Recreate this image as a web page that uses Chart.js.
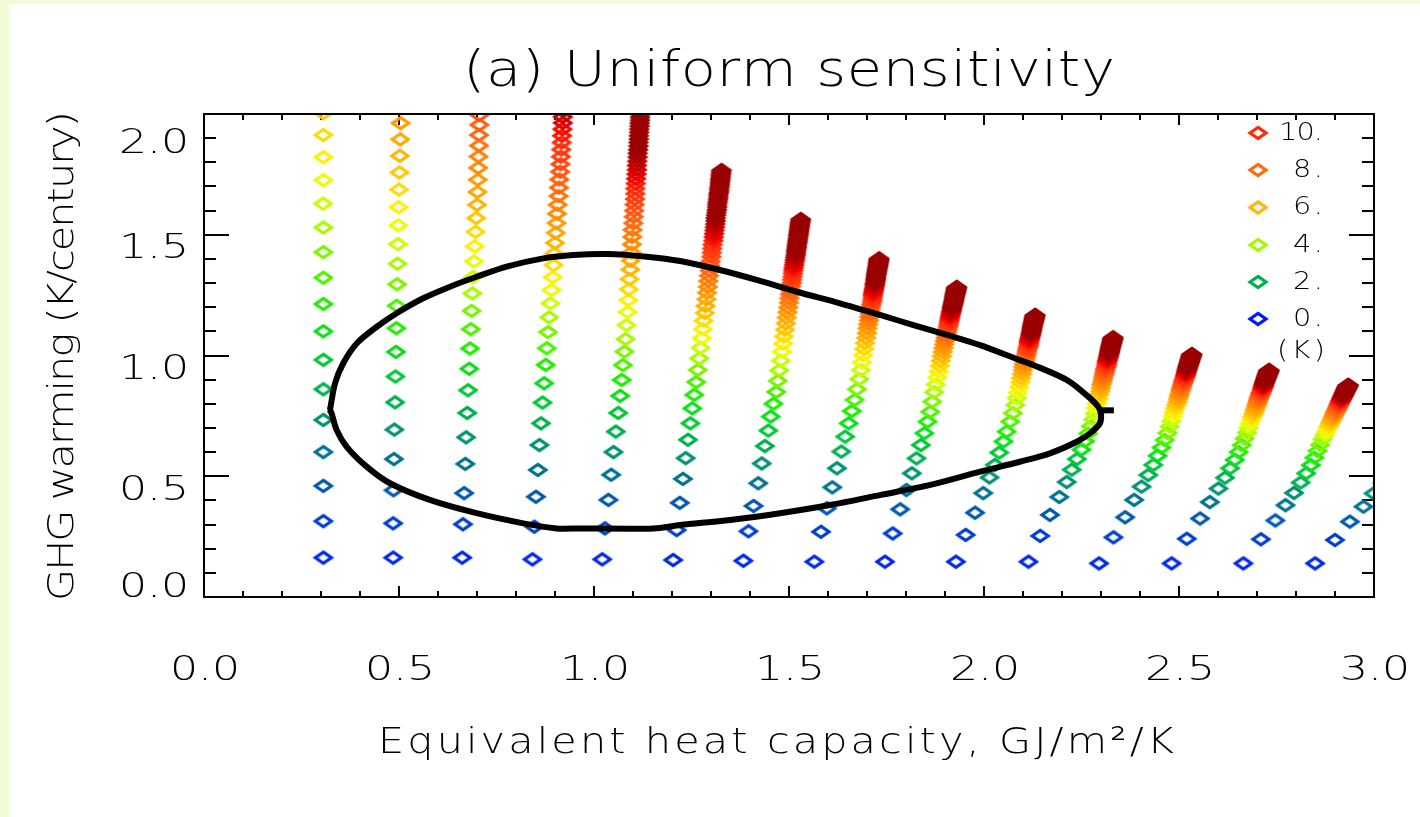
<!DOCTYPE html>
<html><head><meta charset="utf-8">
<style>html,body{margin:0;padding:0;background:#fff;}canvas{display:block;}</style>
<script src="https://cdn.jsdelivr.net/npm/chart.js@4.4.1/dist/chart.umd.min.js"></script>
</head><body>
<canvas id="c" width="1420" height="817"></canvas>
<script>
// ---------------- data ----------------
const sensitivity = [0.33,0.67,1.00,1.33,1.67,2.00,2.33,2.67,3.00,3.33,3.67,4.00,4.33,4.67,5.00,5.33,5.67,6.00,6.33,6.67,7.00,7.33,7.67,8.00,8.33,8.67,9.00,9.33,9.67,10.00,10.33,10.67,11.00,11.33,11.67,12.00,12.33,12.67,13.00,13.33,13.67,14.00,14.33,14.67,15.00,15.33,15.67,16.00,16.33,16.67,17.00,17.33,17.67,18.00,18.33,18.67,19.00,19.33,19.67,20.00];

const col1X = [0.306,0.306,0.306,0.306,0.306,0.306,0.306,0.306,0.306,0.306,0.306,0.306,0.305,0.306,0.306,0.306,0.306,0.306];
const col1Y = [0.163,0.314,0.460,0.600,0.733,0.860,0.982,1.100,1.213,1.322,1.428,1.530,1.629,1.726,1.821,1.913,2.003,2.090];
const col2X = [0.485,0.485,0.486,0.487,0.488,0.490,0.491,0.492,0.493,0.494,0.495,0.496,0.497,0.498,0.499,0.500,0.501,0.502,0.503,0.504,0.505];
const col2Y = [0.163,0.305,0.442,0.571,0.693,0.806,0.913,1.015,1.113,1.206,1.295,1.380,1.461,1.539,1.614,1.687,1.758,1.827,1.895,1.962,2.027];
const col3X = [0.662,0.664,0.667,0.670,0.672,0.675,0.677,0.680,0.682,0.684,0.686,0.688,0.690,0.692,0.694,0.696,0.698,0.700,0.701,0.702,0.703,0.704,0.705,0.705,0.706,0.706,0.707];
const col3Y = [0.163,0.301,0.430,0.551,0.661,0.762,0.856,0.945,1.029,1.109,1.185,1.257,1.325,1.390,1.452,1.512,1.569,1.624,1.677,1.728,1.777,1.824,1.869,1.913,1.955,1.996,2.036];
const col4X = [0.842,0.847,0.851,0.856,0.860,0.864,0.868,0.872,0.876,0.879,0.882,0.885,0.888,0.891,0.894,0.896,0.898,0.900,0.902,0.904,0.905,0.907,0.909,0.910,0.911,0.913,0.914,0.915,0.916,0.917,0.918,0.919,0.920,0.920,0.921,0.922];
const col4Y = [0.156,0.291,0.415,0.526,0.629,0.719,0.805,0.885,0.961,1.030,1.097,1.158,1.216,1.271,1.324,1.374,1.422,1.466,1.508,1.548,1.587,1.624,1.660,1.695,1.729,1.761,1.792,1.823,1.853,1.882,1.910,1.937,1.963,1.988,2.012,2.035];
const col5X = [1.021,1.028,1.037,1.044,1.050,1.056,1.062,1.067,1.071,1.074,1.078,1.081,1.083,1.086,1.088,1.089,1.091,1.093,1.094,1.096,1.097,1.098,1.099,1.101,1.102,1.103,1.104,1.105,1.106,1.106,1.107,1.108,1.109,1.110,1.110,1.111,1.112,1.112,1.113,1.114,1.114,1.115,1.115,1.116,1.116,1.117,1.117,1.118,1.118,1.119,1.119,1.120];
const col5Y = [0.156,0.284,0.402,0.506,0.600,0.685,0.762,0.833,0.899,0.960,1.016,1.068,1.126,1.180,1.229,1.274,1.316,1.356,1.393,1.427,1.460,1.491,1.520,1.548,1.575,1.600,1.625,1.648,1.670,1.691,1.712,1.732,1.751,1.769,1.787,1.804,1.821,1.837,1.852,1.867,1.882,1.896,1.910,1.924,1.937,1.950,1.962,1.974,1.986,1.998,2.009,2.020];
const col6X = [1.203,1.212,1.220,1.228,1.235,1.241,1.247,1.252,1.257,1.262,1.266,1.270,1.273,1.276,1.279,1.281,1.284,1.286,1.288,1.290,1.292,1.293,1.295,1.297,1.298,1.299,1.301,1.302,1.303,1.304,1.306,1.307,1.308,1.309,1.310,1.311,1.312,1.312,1.313,1.314,1.315,1.316,1.316,1.317,1.318,1.319,1.319,1.320,1.321,1.321,1.322,1.323,1.323,1.324,1.324,1.325,1.325,1.326,1.326,1.327];
const col6Y = [0.153,0.277,0.390,0.489,0.575,0.651,0.719,0.781,0.837,0.890,0.940,0.988,1.032,1.072,1.109,1.144,1.176,1.205,1.233,1.260,1.284,1.308,1.330,1.351,1.371,1.390,1.409,1.426,1.443,1.459,1.475,1.490,1.504,1.518,1.531,1.544,1.557,1.569,1.581,1.592,1.603,1.614,1.625,1.635,1.645,1.654,1.664,1.673,1.682,1.691,1.699,1.708,1.716,1.724,1.731,1.739,1.747,1.754,1.761,1.768];
const col7X = [1.383,1.396,1.409,1.421,1.430,1.438,1.447,1.453,1.460,1.467,1.471,1.475,1.479,1.482,1.485,1.487,1.490,1.492,1.494,1.496,1.498,1.500,1.501,1.503,1.504,1.505,1.507,1.508,1.509,1.510,1.511,1.512,1.513,1.514,1.515,1.516,1.517,1.518,1.518,1.519,1.520,1.520,1.521,1.522,1.522,1.523,1.524,1.524,1.525,1.525,1.526,1.526,1.527,1.527,1.528,1.528,1.529,1.529,1.530,1.530];
const col7Y = [0.150,0.272,0.377,0.471,0.553,0.625,0.689,0.747,0.800,0.849,0.895,0.938,0.979,1.016,1.049,1.079,1.107,1.133,1.157,1.179,1.199,1.219,1.237,1.254,1.270,1.286,1.300,1.314,1.327,1.340,1.352,1.363,1.374,1.385,1.395,1.405,1.414,1.423,1.432,1.440,1.448,1.456,1.464,1.471,1.478,1.485,1.492,1.499,1.505,1.511,1.517,1.523,1.529,1.534,1.540,1.545,1.550,1.555,1.560,1.565];
const col8X = [1.565,1.582,1.597,1.611,1.623,1.634,1.644,1.653,1.661,1.668,1.674,1.680,1.684,1.687,1.690,1.693,1.695,1.698,1.700,1.701,1.703,1.705,1.706,1.708,1.709,1.710,1.711,1.713,1.714,1.715,1.715,1.716,1.717,1.718,1.719,1.720,1.720,1.721,1.722,1.722,1.723,1.723,1.724,1.724,1.725,1.725,1.726,1.726,1.727,1.727,1.728,1.728,1.729,1.729,1.729,1.730,1.730,1.730,1.731,1.731];
const col8Y = [0.146,0.270,0.367,0.454,0.533,0.602,0.664,0.719,0.770,0.816,0.860,0.902,0.939,0.972,1.001,1.027,1.051,1.073,1.093,1.112,1.129,1.145,1.160,1.173,1.186,1.199,1.210,1.221,1.231,1.241,1.250,1.259,1.267,1.275,1.282,1.290,1.296,1.303,1.310,1.316,1.321,1.327,1.333,1.338,1.343,1.348,1.352,1.357,1.361,1.366,1.370,1.374,1.378,1.382,1.385,1.389,1.392,1.396,1.399,1.402];
const col9X = [1.746,1.766,1.785,1.801,1.815,1.827,1.838,1.847,1.855,1.862,1.867,1.872,1.876,1.880,1.884,1.887,1.889,1.892,1.894,1.896,1.898,1.900,1.902,1.903,1.905,1.906,1.908,1.909,1.910,1.911,1.912,1.913,1.914,1.915,1.916,1.917,1.918,1.918,1.919,1.920,1.921,1.921,1.922,1.923,1.923,1.924,1.924,1.925,1.925,1.926,1.926,1.927,1.927,1.928,1.928,1.929,1.929,1.929,1.930,1.930];
const col9Y = [0.146,0.263,0.363,0.443,0.512,0.574,0.629,0.678,0.726,0.767,0.809,0.848,0.880,0.909,0.934,0.957,0.978,0.997,1.015,1.031,1.046,1.060,1.073,1.085,1.096,1.107,1.117,1.126,1.135,1.143,1.151,1.159,1.166,1.173,1.180,1.186,1.192,1.198,1.203,1.209,1.214,1.219,1.223,1.228,1.232,1.237,1.241,1.245,1.249,1.252,1.256,1.259,1.263,1.266,1.269,1.272,1.275,1.278,1.281,1.284];
const col10X = [1.928,1.953,1.977,1.998,2.014,2.028,2.039,2.050,2.058,2.067,2.074,2.080,2.084,2.087,2.090,2.093,2.095,2.098,2.100,2.101,2.103,2.105,2.106,2.108,2.109,2.110,2.111,2.113,2.114,2.115,2.115,2.116,2.117,2.118,2.119,2.120,2.120,2.121,2.122,2.122,2.123,2.123,2.124,2.124,2.125,2.125,2.126,2.126,2.127,2.127,2.128,2.128,2.129,2.129,2.129,2.130,2.130,2.130,2.131,2.131];
const col10Y = [0.146,0.257,0.349,0.430,0.495,0.547,0.598,0.644,0.685,0.726,0.761,0.795,0.823,0.847,0.869,0.889,0.906,0.923,0.938,0.952,0.964,0.976,0.987,0.998,1.007,1.016,1.025,1.033,1.040,1.048,1.055,1.061,1.067,1.073,1.079,1.084,1.089,1.094,1.099,1.104,1.108,1.112,1.116,1.120,1.124,1.128,1.131,1.134,1.138,1.141,1.144,1.147,1.150,1.153,1.155,1.158,1.161,1.163,1.166,1.168];
const col11X = [2.114,2.144,2.169,2.193,2.212,2.225,2.238,2.250,2.259,2.267,2.274,2.280,2.284,2.287,2.290,2.293,2.295,2.298,2.300,2.301,2.303,2.305,2.306,2.308,2.309,2.310,2.311,2.313,2.314,2.315,2.315,2.316,2.317,2.318,2.319,2.320,2.320,2.321,2.322,2.322,2.323,2.323,2.324,2.324,2.325,2.325,2.326,2.326,2.327,2.327,2.328,2.328,2.329,2.329,2.329,2.330,2.330,2.330,2.331,2.331];
const col11Y = [0.146,0.253,0.340,0.414,0.476,0.527,0.571,0.610,0.645,0.677,0.707,0.735,0.760,0.782,0.802,0.820,0.837,0.851,0.865,0.878,0.889,0.900,0.910,0.920,0.928,0.937,0.944,0.952,0.959,0.965,0.972,0.977,0.983,0.988,0.994,0.999,1.003,1.008,1.012,1.016,1.020,1.024,1.028,1.031,1.035,1.038,1.041,1.044,1.047,1.050,1.053,1.056,1.058,1.061,1.064,1.066,1.068,1.071,1.073,1.075];
const col12X = [2.295,2.332,2.362,2.385,2.404,2.421,2.434,2.445,2.455,2.463,2.470,2.476,2.480,2.484,2.487,2.490,2.493,2.496,2.498,2.500,2.502,2.504,2.505,2.507,2.508,2.510,2.511,2.512,2.514,2.515,2.516,2.517,2.518,2.519,2.519,2.520,2.521,2.522,2.522,2.523,2.524,2.524,2.525,2.526,2.526,2.527,2.527,2.528,2.528,2.529,2.529,2.530,2.530,2.531,2.531,2.532,2.532,2.532,2.533,2.533];
const col12Y = [0.139,0.247,0.330,0.402,0.457,0.505,0.547,0.585,0.619,0.650,0.679,0.706,0.728,0.748,0.765,0.781,0.796,0.809,0.821,0.832,0.842,0.852,0.861,0.869,0.877,0.884,0.891,0.897,0.903,0.909,0.915,0.920,0.925,0.930,0.934,0.939,0.943,0.947,0.951,0.954,0.958,0.961,0.964,0.968,0.971,0.973,0.976,0.979,0.982,0.984,0.987,0.989,0.991,0.994,0.996,0.998,1.000,1.002,1.004,1.006];
const col13X = [2.481,2.520,2.554,2.579,2.601,2.618,2.631,2.643,2.653,2.661,2.668,2.674,2.678,2.682,2.685,2.688,2.691,2.694,2.696,2.698,2.700,2.702,2.703,2.705,2.706,2.708,2.709,2.710,2.712,2.713,2.714,2.715,2.716,2.717,2.717,2.718,2.719,2.720,2.720,2.721,2.722,2.722,2.723,2.724,2.724,2.725,2.725,2.726,2.726,2.727,2.727,2.728,2.728,2.729,2.729,2.730,2.730,2.730,2.731,2.731];
const col13Y = [0.139,0.241,0.325,0.393,0.449,0.494,0.533,0.568,0.600,0.629,0.656,0.681,0.700,0.717,0.732,0.746,0.758,0.770,0.780,0.790,0.799,0.807,0.815,0.822,0.828,0.835,0.841,0.846,0.851,0.856,0.861,0.866,0.870,0.874,0.878,0.882,0.885,0.889,0.892,0.895,0.898,0.901,0.904,0.907,0.909,0.912,0.914,0.917,0.919,0.921,0.923,0.925,0.927,0.929,0.931,0.933,0.935,0.937,0.938,0.940];
const col14X = [2.665,2.710,2.747,2.773,2.795,2.812,2.826,2.838,2.847,2.855,2.862,2.868,2.873,2.877,2.881,2.885,2.888,2.891,2.893,2.896,2.898,2.900,2.902,2.904,2.906,2.907,2.909,2.910,2.911,2.913,2.914,2.915,2.916,2.917,2.918,2.919,2.920,2.921,2.922,2.923,2.923,2.924,2.925,2.926,2.926,2.927,2.927,2.928,2.929,2.929,2.930,2.930,2.931,2.931,2.932,2.932,2.933,2.933,2.934,2.934];
const col14Y = [0.139,0.239,0.317,0.380,0.431,0.474,0.512,0.546,0.577,0.605,0.630,0.653,0.670,0.684,0.698,0.709,0.720,0.730,0.739,0.747,0.755,0.762,0.769,0.775,0.781,0.786,0.792,0.797,0.801,0.805,0.810,0.813,0.817,0.821,0.824,0.827,0.830,0.834,0.836,0.839,0.842,0.844,0.847,0.849,0.851,0.854,0.856,0.858,0.860,0.862,0.864,0.865,0.867,0.869,0.870,0.872,0.874,0.875,0.877,0.878];
const col15X = [2.849,2.900,2.938,2.973,2.999,3.022];
const col15Y = [0.139,0.236,0.312,0.374,0.429,0.472];

// black contour
const contourX = [0.323,0.336,0.357,0.392,0.443,0.494,0.562,0.631,0.699,0.776,0.870,0.947,1.033,1.135,1.221,1.323,1.417,1.520,1.631,1.733,1.819,1.921,1.990,2.092,2.126,2.212,2.263,2.293,2.300,2.297,2.272,2.238,2.169,2.092,1.990,1.862,1.733,1.605,1.477,1.349,1.221,1.152,0.964,0.904,0.819,0.699,0.579,0.477,0.417,0.366,0.340,0.327,0.323];
const contourY = [0.774,0.885,0.968,1.051,1.119,1.175,1.237,1.285,1.326,1.368,1.402,1.416,1.420,1.409,1.391,1.354,1.313,1.264,1.216,1.168,1.126,1.078,1.043,0.981,0.961,0.899,0.836,0.788,0.755,0.719,0.678,0.643,0.595,0.560,0.519,0.464,0.422,0.381,0.347,0.319,0.298,0.284,0.284,0.284,0.305,0.347,0.402,0.471,0.540,0.622,0.692,0.761,0.774];
const nubRightX = [2.296,2.333];
const nubRightY = [0.773,0.773];
const nubLeftX = [0.317,0.326];
const nubLeftY = [0.774,0.774];

// axes / legend text
const xTickValues = [0.0,0.5,1.0,1.5,2.0,2.5,3.0];
const xTickLabels = ['0.0','0.5','1.0','1.5','2.0','2.5','3.0'];
const yTickValues = [0.0,0.5,1.0,1.5,2.0];
const yTickLabels = ['0.0','0.5','1.0','1.5','2.0'];
const legendValues = [10,8,6,4,2,0];
const legendLabels = ['10.','8.','6.','4.','2.','0.'];
const legendUnit = '(K)';
const titleText = '(a) Uniform sensitivity';
const xTitleText = 'Equivalent heat capacity, GJ/m\u00B2/K';
const yTitleText = 'GHG warming (K/century)';

// ---------------- styling ----------------
const cmapStops = [[0,'#0018ff'],[0.5,'#0030e0'],[1.0,'#0058b0'],[1.4,'#00788c'],[1.7,'#009470'],[2.0,'#00b050'],[2.5,'#00d42c'],[3.0,'#20ee00'],[3.5,'#64f200'],[4.0,'#a8f800'],[4.6,'#e8ff00'],[5.0,'#ffee00'],[5.5,'#ffd000'],[6.0,'#ffb400'],[7.0,'#ff8c00'],[8.0,'#ff6a10'],[9.0,'#ff4810'],[10.0,'#ff2a08'],[10.8,'#f00000'],[11.8,'#c00000'],[12.8,'#9c0000'],[40,'#990000']];
function hex2rgb(h){return [parseInt(h.slice(1,3),16),parseInt(h.slice(3,5),16),parseInt(h.slice(5,7),16)];}
function colorFor(s){
  for(let i=0;i<cmapStops.length-1;i++){
    const [s0,c0]=cmapStops[i],[s1,c1]=cmapStops[i+1];
    if(s<=s1){const t=Math.max(0,(s-s0)/(s1-s0));const a=hex2rgb(c0),b=hex2rgb(c1);
      return 'rgb('+a.map((v,j)=>Math.round(v+(b[j]-v)*t)).join(',')+')';}
  }
  return cmapStops[cmapStops.length-1][1];
}
function makeDiamond(color){
  const cv=document.createElement('canvas');cv.width=26;cv.height=22;
  const g=cv.getContext('2d');g.strokeStyle=color;g.lineWidth=3.2;g.lineJoin='miter';
  g.beginPath();g.moveTo(13,11-5.6);g.lineTo(13+8.0,11);g.lineTo(13,11+5.6);g.lineTo(13-8.0,11);g.closePath();g.stroke();
  return cv;
}
const diamonds = sensitivity.map(s=>makeDiamond(colorFor(s)));

const FONT='"DejaVu Sans", "Liberation Sans", sans-serif';
function spacedText(ctx,text,x,y,size,targetWidth,align,hs){
  hs=hs||1;
  ctx.font='200 '+size+'px '+FONT;
  const chars=[...text];
  const w=chars.map(ch=>ctx.measureText(ch).width*hs);
  const nat=w.reduce((a,b)=>a+b,0);
  const sp=(targetWidth!=null && chars.length>1)?(targetWidth-nat)/(chars.length-1):0;
  const total=nat+sp*(chars.length-1);
  let sx=align==='center'?x-total/2:(align==='right'?x-total:x);
  ctx.textAlign='left';
  chars.forEach((ch,i)=>{ctx.save();ctx.translate(sx,y);ctx.scale(hs,1);ctx.fillText(ch,0,0);ctx.restore();sx+=w[i]+sp;});
}

const bgPlugin={id:'bg',beforeDraw(chart){const c=chart.ctx;c.save();
  c.fillStyle='#f0fcd7';c.fillRect(0,0,chart.width,chart.height);
  c.fillStyle='#ffffff';c.fillRect(9,4,chart.width-9,chart.height-4);c.restore();}};

const axesPlugin={id:'frameTicks',
  beforeDatasetsDraw(chart){
    const c=chart.ctx,xs=chart.scales.x,ys=chart.scales.y,a=chart.chartArea;
    c.save();c.strokeStyle='#000';c.lineWidth=2;c.beginPath();
    for(let i=0;i<=30;i++){const v=i/10,px=Math.round(xs.getPixelForValue(v));const L=(i%5===0)?11:6;
      c.moveTo(px,a.bottom);c.lineTo(px,a.bottom-L);c.moveTo(px,a.top);c.lineTo(px,a.top+L);}
    for(let i=0;i<=20;i++){const v=i/10,py=Math.round(ys.getPixelForValue(v));const L=(i%5===0)?25:12;
      c.moveTo(a.left,py);c.lineTo(a.left+L,py);c.moveTo(a.right,py);c.lineTo(a.right-L,py);}
    c.stroke();c.restore();
  },
  afterDatasetsDraw(chart){
    const c=chart.ctx,a=chart.chartArea;c.save();c.strokeStyle='#000';c.lineWidth=2;
    c.strokeRect(a.left,a.top,a.right-a.left,a.bottom-a.top);c.restore();
  }};

const yLabelDy=[-13,11.3,10.5,10.3,26];
const legendYs=[133,170,207.5,245,282,319];
const textPlugin={id:'texts',afterDraw(chart){
  const c=chart.ctx,xs=chart.scales.x,ys=chart.scales.y;c.save();c.fillStyle='#000';c.textBaseline='alphabetic';
  spacedText(c,titleText,789,86,50,652,'center',1.15);
  spacedText(c,xTitleText,776,753,36,796,'center',1.15);
  c.save();c.translate(73,356);c.rotate(-Math.PI/2);spacedText(c,yTitleText,0,0,36,490,'center',1.15);c.restore();
  xTickValues.forEach((v,i)=>spacedText(c,xTickLabels[i],xs.getPixelForValue(v)+1,680,34,70,'center',1.3));
  yTickValues.forEach((v,i)=>spacedText(c,yTickLabels[i],189,ys.getPixelForValue(v)+yLabelDy[i]+12.5,34,70,'right',1.3));
  legendValues.forEach((v,i)=>{const img=makeDiamond(colorFor(v));c.drawImage(img,1258-13,legendYs[i]-11);
    spacedText(c,legendLabels[i],1323,legendYs[i]+6.5,25,legendLabels[i].length===3?44:30,'right',1.15);});
  spacedText(c,legendUnit,1325,358,25,48,'right',1.15);
  c.restore();}};

const columns=[[col1X,col1Y],[col2X,col2Y],[col3X,col3Y],[col4X,col4Y],[col5X,col5Y],[col6X,col6Y],[col7X,col7Y],[col8X,col8Y],[col9X,col9Y],[col10X,col10Y],[col11X,col11Y],[col12X,col12Y],[col13X,col13Y],[col14X,col14Y],[col15X,col15Y]];
const datasets=columns.map(([xs,ys],ci)=>({type:'scatter',label:'column '+(ci+1),
  data:xs.map((x,i)=>({x,y:ys[i]})),pointStyle:(ctx)=>diamonds[ctx.dataIndex],
  pointRadius:9,pointHoverRadius:9,showLine:false,clip:0,order:2}));
const lineDs=(xs,ys,label,t)=>({type:'line',label,data:xs.map((x,i)=>({x,y:ys[i]})),borderColor:'#000',borderWidth:6,
  pointRadius:0,tension:t,fill:false,clip:0,order:0,borderCapStyle:'butt',borderJoinStyle:'round'});
datasets.push(lineDs(contourX,contourY,'contour',0.3));
datasets.push(lineDs(nubRightX,nubRightY,'nub r',0));
datasets.push(lineDs(nubLeftX,nubLeftY,'nub l',0));

new Chart(document.getElementById('c'),{type:'scatter',data:{datasets},
  options:{responsive:false,animation:false,devicePixelRatio:1,events:[],
    layout:{padding:{left:204,right:46,top:114,bottom:220}},
    scales:{x:{type:'linear',min:0,max:3,display:false},y:{type:'linear',min:0,max:2,display:false}},
    plugins:{legend:{display:false},tooltip:{enabled:false},title:{display:false}}},
  plugins:[bgPlugin,axesPlugin,textPlugin]});
</script></body></html>
